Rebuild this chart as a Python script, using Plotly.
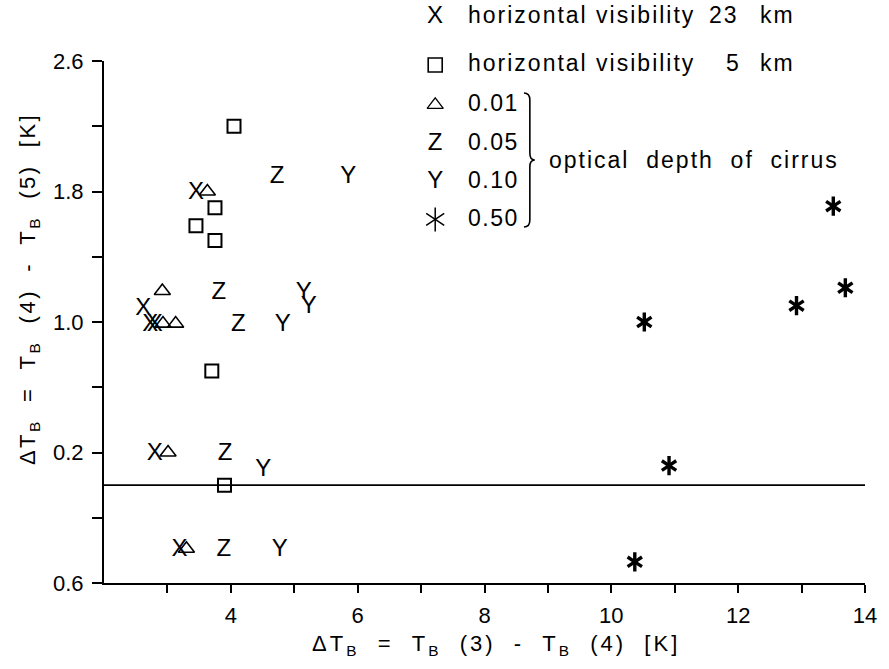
import plotly.graph_objects as go

# ---------------- data ----------------
x_vis23 = [3.45, 2.62, 2.73, 2.80, 2.80, 3.19]          # "X"  horizontal visibility 23 km
y_vis23 = [1.79, 1.08, 0.98, 0.98, 0.19, -0.40]
x_vis5 = [4.05, 3.75, 3.45, 3.75, 3.70, 3.90]           # square  horizontal visibility 5 km
y_vis5 = [2.20, 1.70, 1.59, 1.50, 0.70, 0.00]
x_od001 = [3.63, 2.92, 2.93, 3.13, 3.01, 3.30]          # triangle  optical depth 0.01
y_od001 = [1.80, 1.19, 0.99, 0.99, 0.20, -0.39]
x_od005 = [4.73, 3.81, 4.12, 3.91, 3.89]                # "Z"  optical depth 0.05
y_od005 = [1.89, 1.18, 0.98, 0.19, -0.40]
x_od010 = [5.85, 5.15, 5.23, 4.82, 4.51, 4.77]          # "Y"  optical depth 0.10
y_od010 = [1.89, 1.18, 1.09, 0.98, 0.09, -0.40]
x_od050 = [13.50, 13.69, 12.92, 10.52, 10.91, 10.37]    # asterisk  optical depth 0.50
y_od050 = [1.71, 1.21, 1.10, 1.00, 0.12, -0.47]

x_tickvals = [4, 6, 8, 10, 12, 14]
x_ticktext = ["4", "6", "8", "10", "12", "14"]
x_minorvals = [3, 5, 7, 9, 11, 13]
y_tickvals = [-0.6, 0.2, 1.0, 1.8, 2.6]
y_ticktext = ["0.6", "0.2", "1.0", "1.8", "2.6"]
y_minorvals = [-0.2, 0.6, 1.4, 2.2]

legend_labels = ["horizontal visibility", "0.01", "0.05", "0.10", "0.50"]
legend_vis = ["23", "5"]
legend_unit = "km"
brace_label = "optical depth of cirrus"

# ---------------- layout geometry ----------------
W, H = 889, 669
L, R, T, B = 104, 13, 61, 86
PW, PH = W - L - R, H - T - B
FONT = "Liberation Sans"


def px(xp):
    return (xp - L) / PW


def py(yp):
    return (H - B - yp) / PH


def spaced(s, ls):
    return '<span style="letter-spacing:%spx">%s</span>' % (ls, s)


fig = go.Figure()

txt = dict(family=FONT, size=24, color="black")
fig.add_trace(go.Scatter(x=x_vis23, y=y_vis23, mode="text", text=["X"] * len(x_vis23),
                         textfont=txt, cliponaxis=False))
fig.add_trace(go.Scatter(x=x_od005, y=y_od005, mode="text", text=["Z"] * len(x_od005),
                         textfont=txt, cliponaxis=False))
fig.add_trace(go.Scatter(x=x_od010, y=y_od010, mode="text", text=["Y"] * len(x_od010),
                         textfont=txt, cliponaxis=False))
fig.add_trace(go.Scatter(x=x_vis5, y=y_vis5, mode="markers",
                         marker=dict(symbol="square-open", size=13, color="black",
                                     line=dict(width=2, color="black")), cliponaxis=False))
fig.add_trace(go.Scatter(x=x_od001, y=y_od001, mode="markers",
                         marker=dict(symbol="triangle-up-open", size=14, color="black",
                                     line=dict(width=1.6, color="black")), cliponaxis=False))
for sym in ["y-up-open", "y-down-open"]:
    fig.add_trace(go.Scatter(x=x_od050, y=y_od050, mode="markers",
                             marker=dict(symbol=sym, size=12, color="black",
                                         line=dict(width=3.4, color="black")), cliponaxis=False))

# ---- legend symbols on an overlay axis measured in pixels ----
leg_sym_x = 440
leg_rows_y = [14.5, 63, 103, 142, 180, 218]
fig.add_trace(go.Scatter(x=[leg_sym_x] * 2, y=[leg_rows_y[3], leg_rows_y[4]],
                         mode="text", text=["Z", "Y"], textfont=txt,
                         xaxis="x2", yaxis="y2", cliponaxis=False))
fig.add_trace(go.Scatter(x=[leg_sym_x], y=[leg_rows_y[1]], mode="markers",
                         marker=dict(symbol="square-open", size=14, color="black",
                                     line=dict(width=1.6, color="black")),
                         xaxis="x2", yaxis="y2", cliponaxis=False))
fig.add_trace(go.Scatter(x=[leg_sym_x], y=[leg_rows_y[2]], mode="markers",
                         marker=dict(symbol="triangle-up-open", size=14, color="black",
                                     line=dict(width=1.3, color="black")),
                         xaxis="x2", yaxis="y2", cliponaxis=False))
for sym in ["y-up-open", "y-down-open"]:
    fig.add_trace(go.Scatter(x=[leg_sym_x], y=[leg_rows_y[5]], mode="markers",
                             marker=dict(symbol=sym, size=15, color="black",
                                         line=dict(width=1.5, color="black")),
                             xaxis="x2", yaxis="y2", cliponaxis=False))

ann = []
lf = dict(family=FONT, size=23, color="black")
ann.append(dict(x=px(leg_sym_x), y=py(leg_rows_y[0]), text="X", xanchor="center",
                font=dict(family=FONT, size=24, color="black")))
for r in range(2):
    ann.append(dict(x=px(471), y=py(leg_rows_y[r]), text=spaced(legend_labels[0], 2.0),
                    xanchor="left"))
    ann.append(dict(x=px(767), y=py(leg_rows_y[r]), text=spaced(legend_unit, 2), xanchor="left"))
ann.append(dict(x=px(716), y=py(leg_rows_y[0]), text=spaced(legend_vis[0], 2), xanchor="left"))
ann.append(dict(x=px(733), y=py(leg_rows_y[1]), text=spaced(legend_vis[1], 2), xanchor="left"))
for i in range(1, 5):
    ann.append(dict(x=px(471), y=py(leg_rows_y[i + 1]), text=spaced(legend_labels[i], 1.5),
                    xanchor="left"))
ann.append(dict(x=px(553), y=py(160), text=spaced(brace_label.replace(" ", "&nbsp;&nbsp;"), 2),
                xanchor="left"))

sp = "&nbsp;&nbsp;"
xtitle = ("ΔT<sub>B</sub>" + sp + "=" + sp + "T<sub>B</sub>" + sp + "(3)" + sp + "-" + sp
          + "T<sub>B</sub>" + sp + "(4)" + sp + "[K]")
ytitle = ("ΔT<sub>B</sub>" + sp + "=" + sp + "T<sub>B</sub>" + sp + "(4)" + sp + "-" + sp
          + "T<sub>B</sub>" + sp + "(5)" + sp + "[K]")
tf = dict(family=FONT, size=22, color="black")
ann.append(dict(x=px(502), y=py(645), text=spaced(xtitle, 3), xanchor="center", font=tf))
ann.append(dict(x=px(28), y=py(289), text=spaced(ytitle, 2.5), xanchor="center", textangle=-90,
                font=tf))

for a in ann:
    a.update(xref="paper", yref="paper", showarrow=False, yanchor="middle")
    a.setdefault("font", lf)

# brace
bp = [(530, 93), (536, 93), (536, 100), (536, 153), (536, 160), (541, 160), (536, 160),
      (536, 167), (536, 220), (536, 227), (530, 227)]
c = ["%.5f,%.5f" % (px(a), py(b)) for a, b in bp]
brace_path = ("M " + c[0] + " Q " + c[1] + " " + c[2] + " L " + c[3] + " Q " + c[4] + " " + c[5]
              + " Q " + c[6] + " " + c[7] + " L " + c[8] + " Q " + c[9] + " " + c[10])

tick_common = dict(showline=True, linecolor="black", linewidth=2, ticks="outside",
                   tickwidth=2, tickcolor="black", showgrid=False, zeroline=False,
                   tickfont=dict(family=FONT, size=22, color="black"), ticklabelstandoff=4)

fig.update_layout(
    width=W, height=H, margin=dict(l=L, r=R, t=T, b=B, pad=0),
    paper_bgcolor="white", plot_bgcolor="white", showlegend=False,
    font=dict(family=FONT, size=22, color="black"),
    xaxis=dict(range=[2, 14], tickmode="array", tickvals=x_tickvals, ticktext=x_ticktext,
               ticklen=8,
               minor=dict(tickmode="array", tickvals=x_minorvals, ticks="outside", ticklen=8,
                          tickwidth=2, tickcolor="black", showgrid=False),
               **tick_common),
    yaxis=dict(range=[-0.6, 2.6], tickmode="array", tickvals=y_tickvals, ticktext=y_ticktext,
               ticklen=10,
               minor=dict(tickmode="array", tickvals=y_minorvals, ticks="outside", ticklen=10,
                          tickwidth=2, tickcolor="black", showgrid=False),
               **tick_common),
    xaxis2=dict(range=[L, W - R], overlaying="x", visible=False),
    yaxis2=dict(range=[H - B, T - 2], overlaying="y", visible=False),
    annotations=ann,
    shapes=[
        dict(type="line", xref="paper", yref="y", x0=0, x1=1, y0=0, y1=0,
             line=dict(color="black", width=1.6)),
        dict(type="path", xref="paper", yref="paper", path=brace_path,
             line=dict(color="black", width=1.6)),
    ],
)

fig.write_html("out.html", config={"displayModeBar": False})
